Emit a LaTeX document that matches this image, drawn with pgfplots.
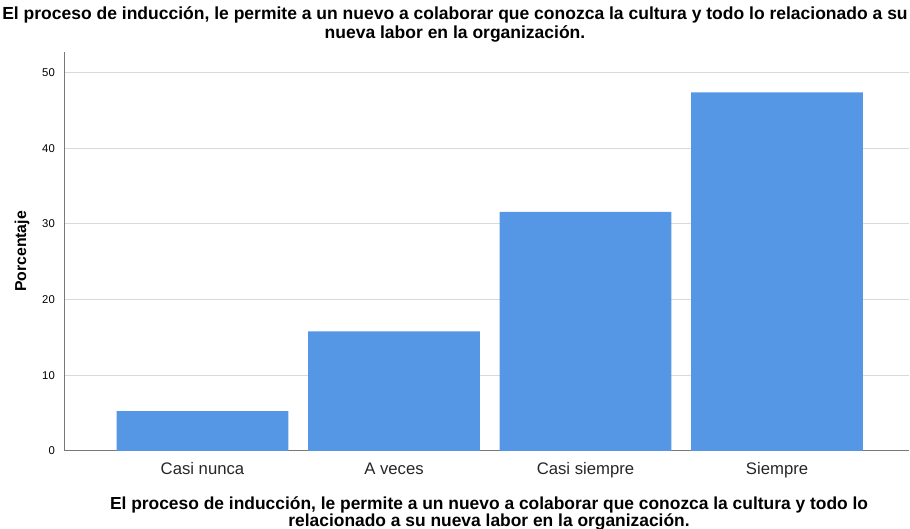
\documentclass[border=0pt]{standalone}
\usepackage{pgfplots}
\pgfplotsset{compat=1.18}
\usepackage{fontspec}
\setmainfont{Liberation Sans}
\definecolor{barblue}{RGB}{85,150,229}
\definecolor{gridgray}{RGB}{217,217,217}
\definecolor{axgray}{RGB}{120,120,120}
\begin{document}
\begin{tikzpicture}[x=1pt,y=1pt]
\path[use as bounding box] (0,0) rectangle (910,529);
\begin{axis}[
 at={(64pt,78pt)}, anchor=south west,
 scale only axis, width=845pt, height=399pt,
 xmin=-0.723, xmax=3.689, ymin=0, ymax=52.7,
 axis x line=bottom, axis y line=left,
 axis line style={-, axgray, line width=1pt},
 xtick={0,1,2,3}, xticklabels={Casi nunca, A veces, Casi siempre, Siempre},
 ytick={0,10,...,50},
 major tick length=0pt,
 ymajorgrids, grid style={gridgray, line width=1pt},
 xticklabel style={font=\fontsize{16.7}{19}\selectfont, text=black!85, anchor=base, inner sep=0pt, yshift=-24pt},
 yticklabel style={font=\fontsize{11.3}{13}\selectfont, anchor=east, inner sep=0pt, xshift=-9pt},
 /pgf/number format/assume math mode=true,
 ylabel={Porcentaje},
 ylabel style={font=\bfseries\fontsize{15.8}{18}\selectfont, at={(axis description cs:-0.0497,0.5)}, anchor=center},
 xlabel={El proceso de inducción, le permite a un nuevo a colaborar que conozca la cultura y todo lo\\relacionado a su nueva labor en la organización.},
 xlabel style={font=\bfseries\fontsize{17.4}{17}\selectfont, at={(axis description cs:0.503,0)}, anchor=north, align=center, inner sep=0pt, yshift=-46pt},
 title={El proceso de inducción, le permite a un nuevo a colaborar que conozca la cultura y todo lo relacionado a su\\nueva labor en la organización.},
 title style={font=\bfseries\fontsize{17.5}{19}\selectfont, at={(axis description cs:0.4627,1.1003)}, anchor=north, align=center, inner sep=0pt},
]
\addplot[ybar, bar width=171.7pt, bar shift=0pt, fill=barblue, draw=none] coordinates {(0,5.26) (1,15.79) (2,31.58) (3,47.37)};
\end{axis}
\end{tikzpicture}
\end{document}
